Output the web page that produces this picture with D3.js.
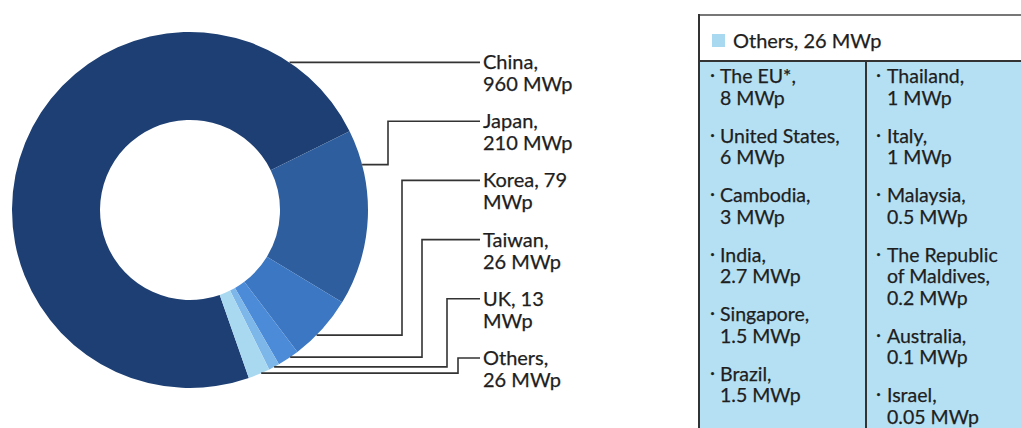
<!DOCTYPE html>
<html lang="en">
	<head>
		<meta charset="utf-8">
		<title>Solar capacity donut</title>
		<script type="text/javascript" src="https://d3js.org/d3.v7.min.js"></script>
		<style type="text/css">
			body { margin: 0; background: #fff; }
			text {
				font-family: Lato, "Open Sans", sans-serif;
				fill: #1e1e1e;
				stroke: #1e1e1e;
				stroke-width: 0.25px;
			}
		</style>
	</head>
	<body>
		<script type="text/javascript">

			//Data
			var countries = ["China", "Japan", "Korea", "Taiwan", "UK", "Others"];
			var capacity = [960, 210, 79, 26, 13, 26];
			var labelLines = [
				["China,", "960 MWp"],
				["Japan,", "210 MWp"],
				["Korea, 79", "MWp"],
				["Taiwan,", "26 MWp"],
				["UK, 13", "MWp"],
				["Others,", "26 MWp"]
			];
			var colors = ["#1d3f73", "#2f5e9f", "#3b77c2", "#4c8bd8", "#7db6e8", "#a9d9f1"];

			var otherNames = ["The EU*", "United States", "Cambodia", "India", "Singapore", "Brazil",
				"Thailand", "Italy", "Malaysia", "The Republic\nof Maldives", "Australia", "Israel"];
			var otherValues = [8, 6, 3, 2.7, 1.5, 1.5, 1, 1, 0.5, 0.2, 0.1, 0.05];
			var otherColumn = [0, 0, 0, 0, 0, 0, 1, 1, 1, 1, 1, 1];

			//Width and height
			var w = 1021;
			var h = 428;

			var svg = d3.select("body")
						.append("svg")
						.attr("width", w)
						.attr("height", h);

			//Donut
			var cx = 190, cy = 210;
			var outerRadius = 178;
			var innerRadius = 90;
			var start = 160.7 * Math.PI / 180;

			var pie = d3.pie()
						.sort(null)
						.startAngle(start)
						.endAngle(start + 2 * Math.PI);

			var arc = d3.arc()
						.innerRadius(innerRadius)
						.outerRadius(outerRadius);

			var slices = pie(capacity);

			var donut = svg.append("g")
						.attr("transform", "translate(" + cx + "," + cy + ")");

			donut.selectAll("path")
				.data(slices)
				.enter()
				.append("path")
				.attr("fill", function(d, i) { return colors[i]; })
				.attr("d", arc);

			//Leader lines (where on each slice the line leaves, and where it turns)
			var anchorFrac = [0.887, 0.2, 0.62, 0.4, 0.5, 0.4];
			var elbowX = [null, 388, 402, 422, 447, 458];
			var labelX = 483;
			var labelY = d3.scaleLinear().domain([0, 5]).range([62, 358]);

			var leader = svg.append("g");
			slices.forEach(function(d, i) {
				var a = d.startAngle + anchorFrac[i] * (d.endAngle - d.startAngle);
				var ax = cx + outerRadius * Math.sin(a);
				var ay = cy - outerRadius * Math.cos(a);
				var ly = labelY(i);
				var p = d3.path();
				p.moveTo(ax, ay);
				if (elbowX[i] === null) {
					p.lineTo(labelX - 3, ay);
				} else {
					p.lineTo(elbowX[i], ay);
					p.lineTo(elbowX[i], ly);
					p.lineTo(labelX - 3, ly);
				}
				leader.append("path")
					.attr("d", p.toString())
					.attr("fill", "none")
					.attr("stroke", "#333")
					.attr("stroke-width", 1.6);

				var t = leader.append("text")
					.attr("x", labelX)
					.attr("y", ly + 7)
					.style("font-size", "20px");
				labelLines[i].forEach(function(s, j) {
					t.append("tspan")
						.attr("x", labelX)
						.attr("dy", j === 0 ? 0 : 22)
						.text(s);
				});
			});

			//Others table
			var tx = 699, ty = 15, headerBottom = 61, colX = 866;
			var table = svg.append("g");

			table.append("rect")
				.attr("x", tx).attr("y", ty)
				.attr("width", w - tx + 10).attr("height", headerBottom - ty)
				.attr("fill", "#fff");
			table.append("rect")
				.attr("x", tx).attr("y", headerBottom)
				.attr("width", w - tx + 10).attr("height", h - headerBottom + 10)
				.attr("fill", "#b5e0f3");

			table.append("line")
				.attr("x1", tx).attr("x2", w).attr("y1", ty).attr("y2", ty)
				.attr("stroke", "#777").attr("stroke-width", 2);
			table.append("line")
				.attr("x1", tx).attr("x2", tx).attr("y1", ty - 1).attr("y2", h)
				.attr("stroke", "#333").attr("stroke-width", 2);
			table.append("line")
				.attr("x1", tx).attr("x2", w).attr("y1", headerBottom).attr("y2", headerBottom)
				.attr("stroke", "#333").attr("stroke-width", 2);
			table.append("line")
				.attr("x1", colX).attr("x2", colX).attr("y1", headerBottom).attr("y2", h)
				.attr("stroke", "#333").attr("stroke-width", 2);

			table.append("rect")
				.attr("x", 712).attr("y", 34)
				.attr("width", 13).attr("height", 13)
				.attr("fill", colors[5]);
			table.append("text")
				.attr("x", 733).attr("y", 48)
				.style("font-size", "20px")
				.text(countries[5] + ", " + capacity[5] + " MWp");

			//Table rows: items flow down each column
			var lineH = 21.5, itemGap = 16.5, firstY = 83;
			var colTextX = [720, 887], bulletX = [710, 876];
			var cursor = [firstY, firstY];

			otherNames.forEach(function(name, i) {
				var c = otherColumn[i];
				var parts = name.split("\n");
				parts[parts.length - 1] += ",";
				parts.push(otherValues[i] + " MWp");

				table.append("text")
					.attr("x", bulletX[c]).attr("y", cursor[c] - 2)
					.style("font-size", "19.5px")
					.text("\u00b7");

				var t = table.append("text")
					.attr("x", colTextX[c]).attr("y", cursor[c])
					.style("font-size", "19.5px");
				parts.forEach(function(s, j) {
					t.append("tspan")
						.attr("x", colTextX[c])
						.attr("dy", j === 0 ? 0 : lineH)
						.text(s);
				});
				cursor[c] += parts.length * lineH + itemGap;
			});

		</script>
	</body>
</html>
